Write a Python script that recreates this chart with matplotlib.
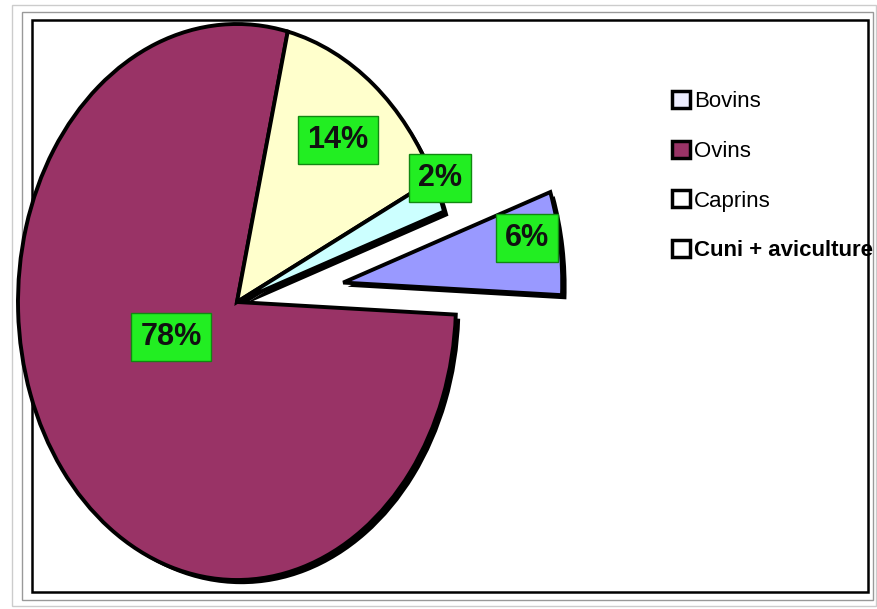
import matplotlib.pyplot as plt
from matplotlib.patches import Patch, Rectangle

# data
categories = ['Bovins', 'Ovins', 'Caprins', 'Cuni + aviculture']
values = [6, 78, 14, 2]
pct_labels = ['6%', '78%', '14%', '2%']
colors = ['#9999ff', '#993366', '#ffffcc', '#ccffff']
legend_fill = ['#eeeeff', '#993366', '#ffffff', '#ffffff']
explode = [0.49, 0, 0, 0]

W, H = 877, 609
# pie centre and radii in pixels (the picture is stretched vertically)
cx, cy, rx, ry = 237, 302, 219, 278

def to_data(px, py):
    return (px - cx) / rx, (cy - py) / ry

fig = plt.figure(figsize=(W / 100, H / 100), dpi=100)
ax = fig.add_axes([0, 0, 1, 1])

# shadow
ax.pie(values, explode=explode, startangle=19, counterclock=False,
       colors=['black'] * 4, center=(0.02, -0.015),
       wedgeprops=dict(linewidth=0))
wedges, _ = ax.pie(values, explode=explode, startangle=19, counterclock=False,
                   colors=colors,
                   wedgeprops=dict(edgecolor='black', linewidth=2.8))

x0, y0 = to_data(0, H)
x1, y1 = to_data(W, 0)
ax.set_xlim(x0, x1)
ax.set_ylim(y0, y1)
ax.set_aspect('auto')
ax.axis('off')

# percentage labels (green boxes)
label_pos = [(527, 238), (171, 337), (338, 140), (440, 178)]
for txt, (px, py) in zip(pct_labels, label_pos):
    x, y = to_data(px, py)
    ax.text(x, y, txt, ha='center', va='center', fontsize=22,
            family='Liberation Sans', fontweight='bold', color='#111111',
            bbox=dict(boxstyle='square,pad=0.3', facecolor='#22ee22',
                      edgecolor='#118811', linewidth=1))

# legend
handles = [Patch(facecolor=c, edgecolor='black', linewidth=2.5) for c in legend_fill]
leg = fig.legend(handles, categories, loc='upper left',
                 bbox_to_anchor=(672 / W, 1 - 91 / H), frameon=False,
                 prop=dict(family='Liberation Sans', size=16),
                 handlelength=0.8, handleheight=0.8, handletextpad=0.2,
                 labelspacing=1.28, borderpad=0, borderaxespad=0)
leg.get_texts()[3].set_fontweight('bold')

# frame around the picture
for (left, top, right, bottom), col, lw in [((32, 20, 868, 592), 'black', 1.8),
                                            ((22, 12, 873, 600), '#999999', 1.0),
                                            ((12, 5, 876, 606), '#cccccc', 1.0)]:
    fig.add_artist(Rectangle((left / W, 1 - bottom / H),
                             (right - left) / W, (bottom - top) / H,
                             transform=fig.transFigure, fill=False,
                             edgecolor=col, linewidth=lw, zorder=-1))

fig.savefig('out.png', dpi=100)
